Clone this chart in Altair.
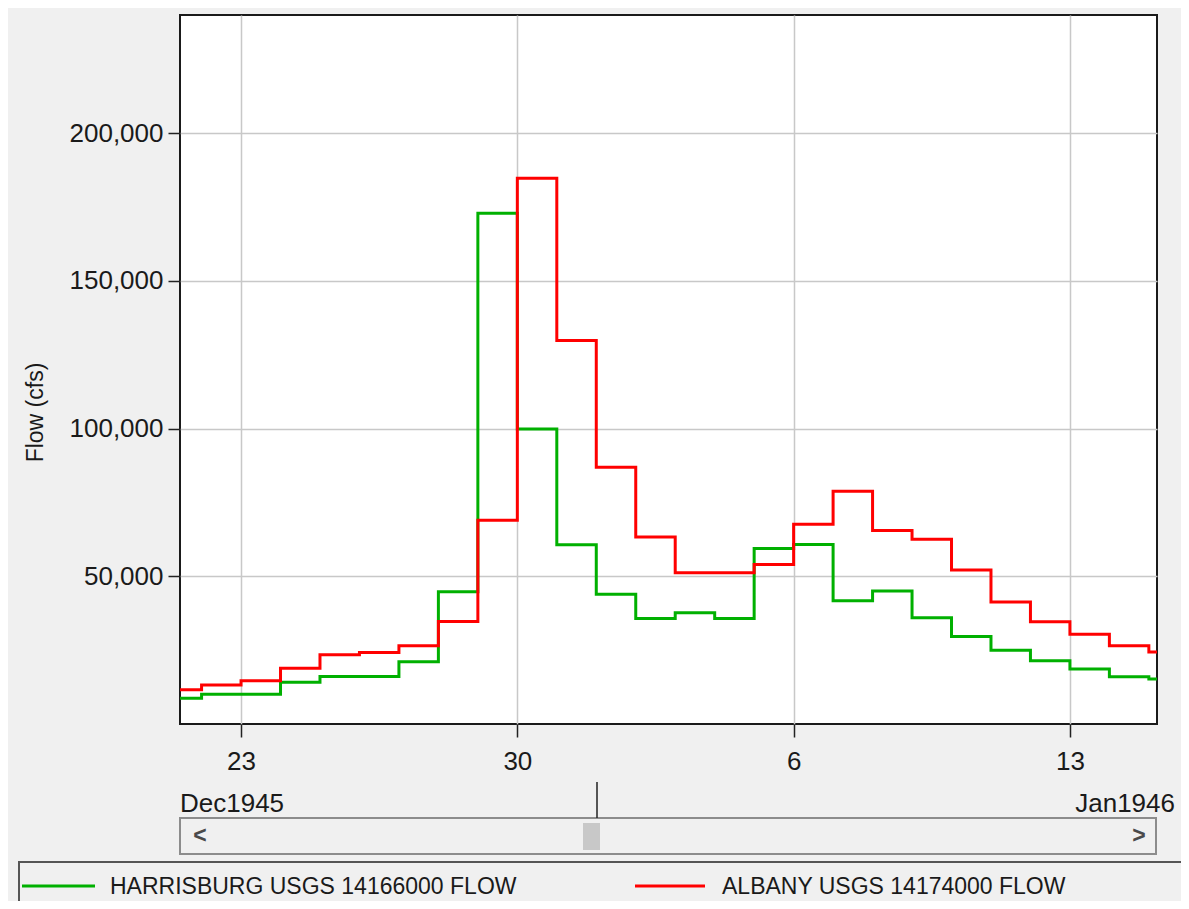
import altair as alt
import pandas as pd

# ---------------- data ----------------
days = [
    "1945-12-21", "1945-12-22", "1945-12-23", "1945-12-24", "1945-12-25", "1945-12-26",
    "1945-12-27", "1945-12-28", "1945-12-29", "1945-12-30", "1945-12-31",
    "1946-01-01", "1946-01-02", "1946-01-03", "1946-01-04", "1946-01-05", "1946-01-06",
    "1946-01-07", "1946-01-08", "1946-01-09", "1946-01-10", "1946-01-11", "1946-01-12",
    "1946-01-13", "1946-01-14", "1946-01-15",
]
harrisburg = [
    8700, 10100, 10100, 14100, 16100, 16100, 21100, 44800, 172900, 99900, 60700,
    43900, 35700, 37700, 35700, 59400, 60800, 41700, 45000, 36000, 29600, 25000,
    21400, 18600, 16000, 15200,
]
albany = [
    11600, 13200, 14600, 18900, 23400, 24200, 26500, 34700, 69000, 184700, 129800,
    86900, 63300, 51200, 51200, 54000, 67600, 78800, 65500, 62500, 52100, 41300,
    34600, 30400, 26500, 24400,
]
series_names = ["HARRISBURG USGS 14166000 FLOW", "ALBANY USGS 14174000 FLOW"]
series_colors = ["#00b000", "#ff0000"]
x_ticks = ["1945-12-23", "1945-12-30", "1946-01-06", "1946-01-13"]
x_domain = ["1945-12-21T10:53:00Z", "1946-01-15T04:57:00Z"]
y_ticks = [50000, 100000, 150000, 200000]
y_domain = [0, 240000]
month_left = "Dec1945"
month_right = "Jan1946"
y_title = "Flow (cfs)"


def ms(s):
    return int(pd.to_datetime(s, utc=True).value // 10**6)


DAY = 86400000
rows = []
for name, vals in zip(series_names, [harrisburg, albany]):
    for d, v in zip(days, vals):
        rows.append({"t": ms(d), "flow": v, "series": name})
    # close the final daily step
    rows.append({"t": ms(days[-1]) + DAY, "flow": vals[-1], "series": name})
df = pd.DataFrame(rows)

FONT = "Liberation Sans"
TXT = "#1a1a1a"

x_enc = alt.X(
    "t:T",
    scale=alt.Scale(type="utc", domain=[ms(x_domain[0]), ms(x_domain[1])]),
    axis=alt.Axis(
        values=[ms(v) for v in x_ticks],
        labelExpr="utcdate(datum.value)",
        title=None,
        domain=False,
        grid=True,
        tickSize=13,
        labelPadding=11,
    ),
)
y_enc = alt.Y(
    "flow:Q",
    scale=alt.Scale(domain=y_domain, nice=False, zero=True),
    axis=alt.Axis(
        values=y_ticks,
        format=",.0f",
        title=y_title,
        titleX=-145,
        titleY=397,
        titleAngle=270,
        titleAlign="center",
        titleBaseline="middle",
        titleFontSize=23,
        titleFontWeight="normal",
        titleFont=FONT,
        titleColor=TXT,
        domain=False,
        grid=True,
        tickSize=12,
        labelPadding=5,
    ),
)
color_enc = alt.Color(
    "series:N",
    scale=alt.Scale(domain=series_names, range=series_colors),
    legend=None,
)

base = alt.Chart(df)
lines = [
    base.transform_filter(alt.datum.series == name)
    .mark_line(interpolate="step-after", strokeWidth=3, clip=True)
    .encode(x=x_enc, y=y_enc, color=color_enc)
    for name in series_names
]

one = alt.Data(values=[{"k": 0}])

scroll_box = alt.Chart(one).mark_rect(
    fill="#f0f0f0", stroke="#8c8c8c", strokeWidth=2
).encode(x=alt.value(0), x2=alt.value(976), y=alt.value(803), y2=alt.value(839))
thumb = alt.Chart(one).mark_rect(fill="#c8c8c8").encode(
    x=alt.value(403), x2=alt.value(420), y=alt.value(808), y2=alt.value(835)
)
marker = alt.Chart(one).mark_rule(color="#222", strokeWidth=1.5).encode(
    x=alt.value(417), y=alt.value(767), y2=alt.value(803)
)
arrow_l = alt.Chart(one).mark_text(
    text="<", font=FONT, fontSize=23, fontWeight="bold", color="#4a4a4a", align="center", baseline="middle"
).encode(x=alt.value(20), y=alt.value(821))
arrow_r = alt.Chart(one).mark_text(
    text=">", font=FONT, fontSize=23, fontWeight="bold", color="#4a4a4a", align="center", baseline="middle"
).encode(x=alt.value(959), y=alt.value(821))
lbl_left = alt.Chart(one).mark_text(
    text=month_left, font=FONT, fontSize=26, color=TXT, align="left", baseline="alphabetic"
).encode(x=alt.value(0), y=alt.value(797))
lbl_right = alt.Chart(one).mark_text(
    text=month_right, font=FONT, fontSize=26, color=TXT, align="right", baseline="alphabetic"
).encode(x=alt.value(995), y=alt.value(797))

legend_box = alt.Chart(one).mark_rect(
    fill="#f0f0f0", stroke="#555", strokeWidth=2
).encode(x=alt.value(-161), x2=alt.value(1030), y=alt.value(847), y2=alt.value(920))
leg_items = []
for name, col, x0, x1, xt in zip(series_names, series_colors, [-158, 455], [-85, 525], [-70, 542]):
    leg_items.append(
        alt.Chart(one).mark_rule(color=col, strokeWidth=3).encode(
            x=alt.value(x0), x2=alt.value(x1), y=alt.value(871)
        )
    )
    leg_items.append(
        alt.Chart(one).mark_text(
            text=name, font=FONT, fontSize=23, color=TXT, align="left", baseline="middle"
        ).encode(x=alt.value(xt), y=alt.value(872))
    )

chart = (
    alt.layer(
        *lines, scroll_box, thumb, marker, arrow_l, arrow_r, lbl_left, lbl_right,
        legend_box, *leg_items
    )
    .properties(
        width=977,
        height=709,
        padding={"left": 172, "top": 7, "right": 24, "bottom": 177},
        autosize=alt.AutoSizeParams(type="none"),
    )
    .configure(background="#f0f0f0")
    .configure_view(fill="white", stroke="#1a1a1a", strokeWidth=2)
    .configure_axis(
        labelFont=FONT,
        labelFontSize=26,
        labelColor=TXT,
        tickColor="#222",
        tickWidth=1.5,
        gridColor="#c8c8c8",
        gridWidth=1.5,
    )
)

chart.save("out.html", embed_options={"renderer": "svg", "actions": False})
